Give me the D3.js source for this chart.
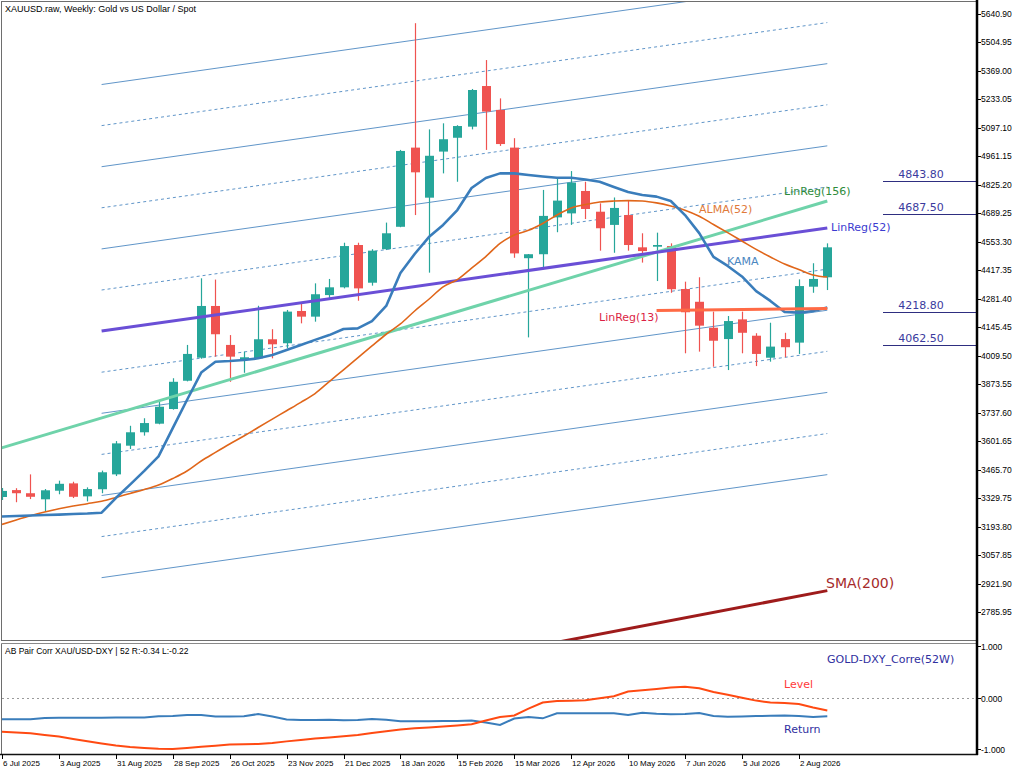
<!DOCTYPE html>
<html><head><meta charset="utf-8">
<script src="https://cdn.jsdelivr.net/npm/d3@7/dist/d3.min.js"></script>
<style>body{margin:0;background:#fff}svg{display:block}</style>
</head><body><svg id="c" width="1024" height="773"></svg>
<script>
// ---------- DATA ----------
const title = "XAUUSD.raw, Weekly:  Gold vs US Dollar / Spot";
const subTitle = "AB Pair Corr XAU/USD-DXY | 52 R:-0.34 L:-0.22";
const openP  = [3335,3368,3353,3324,3365,3400,3338,3372,3443,3580,3644,3685,3755,3890,4000,4247,4061,3989,3997,4088,4069,4223,4196,4299,4336,4538,4358,4518,4625,5003,4764,4984,5050,5103,5297,5183,5003,4475,4494,4670,4689,4796,4697,4634,4681,4527,4530,4533,4328,4267,4143,4089,4183,4105,4000,4089,4072,4339,4384];
const highP  = [3378,3377,3443,3373,3413,3408,3381,3461,3602,3675,3711,3790,3902,4061,4379,4373,4108,4029,4248,4136,4228,4265,4355,4376,4549,4549,4518,4645,4992,5597,5090,5119,5110,5283,5421,5238,5048,4495,4801,4859,4891,4840,4737,4765,4748,4594,4597,4546,4363,4384,4220,4199,4220,4117,4167,4119,4374,4451,4546];
const lowP   = [3321,3310,3325,3265,3348,3330,3314,3353,3435,3564,3628,3682,3752,3887,3995,4005,3885,3928,3996,3997,4045,4164,4172,4276,4331,4272,4344,4514,4623,4681,4406,4880,4840,5090,4992,5011,4477,4097,4422,4599,4634,4662,4511,4501,4511,4454,4366,4310,4021,4029,3957,3941,4021,3960,3981,4002,4018,4310,4323];
const closeP = [3364,3353,3336,3367,3398,3336,3373,3453,3591,3644,3688,3766,3885,4018,4247,4112,4005,4002,4088,4064,4220,4196,4303,4336,4533,4331,4511,4594,4987,4885,4964,5043,5106,5278,5175,5020,4498,4494,4677,4750,4836,4710,4618,4715,4538,4509,4538,4327,4217,4153,4081,4175,4119,4018,4053,4050,4342,4376,4527];
const kamaV = [3242,3244,3247,3249,3251,3254,3256,3260,3330,3394,3460,3529,3664,3798,3929,3981,3984,3989,3997,4013,4037,4061,4085,4108,4137,4140,4175,4247,4404,4495,4576,4634,4705,4810,4858,4880,4880,4872,4865,4859,4859,4851,4840,4815,4791,4777,4769,4748,4681,4595,4481,4438,4388,4318,4271,4218,4215,4223,4240];
const almaV = [3204,3225,3245,3263,3279,3292,3303,3315,3333,3352,3371,3392,3423,3459,3507,3548,3588,3626,3667,3707,3747,3787,3829,3886,3942,3999,4056,4112,4161,4223,4279,4338,4373,4428,4483,4546,4586,4608,4641,4681,4715,4731,4743,4748,4750,4748,4739,4724,4704,4675,4636,4597,4557,4517,4481,4447,4421,4395,4385];
const linReg52  = {from: 7,  to: 58, v0: 4127, v1: 4619};
const linReg156 = {from: -1, to: 58, v0: 3550, v1: 4748};
const linReg13  = {from: 46, to: 58, v0: 4225, v1: 4235};
const sma200    = {from: 0,  to: 58, v0: 2135, v1: 2888};
const channelStep = 196.2;
const channelK = [-6,-5,-4,-3,-2,-1,1,2,3,4,5,6];
const hLevels = [4843.80, 4687.50, 4218.80, 4062.50];
const priceTicks = [5640.90,5504.95,5369.00,5233.05,5097.10,4961.15,4825.20,4689.25,4553.30,4417.35,4281.40,4145.45,4009.50,3873.55,3737.60,3601.65,3465.70,3329.75,3193.80,3057.85,2921.90,2785.95];
const corrTicks = [1, 0, -1];
const dateLabels = ["6 Jul 2025","3 Aug 2025","31 Aug 2025","28 Sep 2025","26 Oct 2025","23 Nov 2025","21 Dec 2025","18 Jan 2026","15 Feb 2026","15 Mar 2026","12 Apr 2026","10 May 2026","7 Jun 2026","5 Jul 2026","2 Aug 2026"];
const dateIdx = [0,4,8,12,16,20,24,28,32,36,40,44,48,52,56];
const corrLevel = [-0.66,-0.676,-0.691,-0.724,-0.755,-0.801,-0.846,-0.888,-0.927,-0.956,-0.975,-0.988,-0.994,-0.975,-0.95,-0.932,-0.909,-0.902,-0.898,-0.878,-0.847,-0.82,-0.79,-0.77,-0.749,-0.724,-0.685,-0.653,-0.62,-0.595,-0.577,-0.558,-0.539,-0.515,-0.444,-0.376,-0.347,-0.216,-0.098,-0.068,-0.062,-0.054,-0.015,0.023,0.116,0.139,0.164,0.193,0.207,0.178,0.106,0.054,-0.004,-0.06,-0.097,-0.106,-0.125,-0.193,-0.25];
const corrReturn = [-0.421,-0.421,-0.421,-0.396,-0.39,-0.39,-0.39,-0.39,-0.386,-0.386,-0.384,-0.363,-0.357,-0.338,-0.338,-0.365,-0.369,-0.363,-0.319,-0.367,-0.425,-0.434,-0.434,-0.431,-0.438,-0.434,-0.415,-0.429,-0.459,-0.459,-0.458,-0.456,-0.454,-0.444,-0.483,-0.531,-0.405,-0.376,-0.402,-0.305,-0.305,-0.305,-0.305,-0.305,-0.338,-0.295,-0.315,-0.322,-0.319,-0.299,-0.357,-0.373,-0.367,-0.357,-0.353,-0.347,-0.357,-0.376,-0.36];

// ---------- LAYOUT ----------
const svg = d3.select("#c");
const axisX = 977;
const x = d3.scaleLinear().domain([0, 58]).range([2, 827.3]);
const y = d3.scaleLinear().domain([2652.3, 5707.7]).range([640, 0]);
const yc = d3.scaleLinear().domain([-1, 1]).range([749.3, 645.7]);
const N = openP.length;

const defs = svg.append("defs");
defs.append("clipPath").attr("id","mainClip").append("rect").attr("x",2).attr("y",2).attr("width",axisX-2).attr("height",638);
defs.append("clipPath").attr("id","subClip").append("rect").attr("x",2).attr("y",644).attr("width",axisX-2).attr("height",109);

const main = svg.append("g").attr("clip-path","url(#mainClip)");
const sub = svg.append("g").attr("clip-path","url(#subClip)");

// channel lines
const chLine = (k) => [[linReg52.from, linReg52.v0 + k*channelStep],[linReg52.to, linReg52.v1 + k*channelStep]];
const line = d3.line().x(d => x(d[0])).y(d => y(d[1]));
channelK.forEach(k => {
  main.append("path").attr("d", line(chLine(k)))
    .attr("fill","none").attr("stroke","#4f8ac2").attr("stroke-width",1)
    .attr("stroke-dasharray", Math.abs(k)%2===1 ? "3,3" : null)
    .attr("opacity",0.9);
});

// SMA 200
main.append("path").attr("d", line([[sma200.from,sma200.v0],[sma200.to,sma200.v1]]))
  .attr("stroke","#9e1b1b").attr("stroke-width",3).attr("fill","none");

// candles
const idx = d3.range(N);
const bw = 9;
const cg = main.append("g");
idx.forEach(i => {
  const up = closeP[i] >= openP[i];
  const col = up ? "#26a69a" : "#ef5350";
  const cx = Math.round(x(i)) + 0.5;
  cg.append("line").attr("x1",cx).attr("x2",cx).attr("y1",y(highP[i])).attr("y2",y(lowP[i]))
    .attr("stroke",col).attr("stroke-width",1.2);
  const top = y(Math.max(openP[i],closeP[i])), bot = y(Math.min(openP[i],closeP[i]));
  cg.append("rect").attr("x",cx-bw/2).attr("y",top).attr("width",bw).attr("height",Math.max(1.5,bot-top))
    .attr("fill",col);
});

// LinReg 156
main.append("path").attr("d", line([[linReg156.from,linReg156.v0],[linReg156.to,linReg156.v1]]))
  .attr("stroke","#6fd3aa").attr("stroke-width",3).attr("fill","none");
// LinReg 52
main.append("path").attr("d", line([[linReg52.from,linReg52.v0],[linReg52.to,linReg52.v1]]))
  .attr("stroke","#6a4fd6").attr("stroke-width",3).attr("fill","none");
// ALMA
main.append("path").attr("d", d3.line().x((d,i)=>x(i)).y(d=>y(d)).curve(d3.curveMonotoneX)(almaV))
  .attr("stroke","#e0661a").attr("stroke-width",1.6).attr("fill","none");
// KAMA
main.append("path").attr("d", d3.line().x((d,i)=>x(i)).y(d=>y(d))(kamaV))
  .attr("stroke","#3a7dbb").attr("stroke-width",2.6).attr("fill","none").attr("stroke-linejoin","round");
// LinReg 13
main.append("path").attr("d", line([[linReg13.from,linReg13.v0],[linReg13.to,linReg13.v1]]))
  .attr("stroke","#ff6a45").attr("stroke-width",3).attr("fill","none");

// horizontal levels
hLevels.forEach(v => {
  const yy = Math.round(y(v)) + 0.5;
  svg.append("line").attr("x1",883).attr("x2",axisX).attr("y1",yy).attr("y2",yy)
    .attr("stroke","#2e2e80").attr("stroke-width",1.2);
  svg.append("text").attr("x",921).attr("y",yy-4).attr("text-anchor","middle")
    .attr("font-family","DejaVu Sans").attr("font-size",11).attr("fill","#3b3b9e").text(v.toFixed(2));
});

// indicator labels
const lab = (t, xx, yy, col, fs) => svg.append("text").attr("x",xx).attr("y",yy).attr("dy","0.35em")
  .attr("font-family","DejaVu Sans").attr("font-size",fs||11).attr("fill",col).text(t);
lab("LinReg(156)", 784, 191, "#2e8b3a");
lab("ALMA(52)", 699, 209.5, "#e07a3a");
lab("LinReg(52)", 831, 227, "#3b3bd0");
lab("KAMA", 727, 261, "#4a86bf");
lab("LinReg(13)", 599, 317, "#dc1f45");
lab("SMA(200)", 826, 583, "#a52a2a", 14);

// ---------- SUB PANEL ----------
sub.append("line").attr("x1",2).attr("x2",axisX).attr("y1",Math.round(yc(0))+0.5).attr("y2",Math.round(yc(0))+0.5)
  .attr("stroke","#9a9a9a").attr("stroke-width",1).attr("stroke-dasharray","2,3");
sub.append("path").attr("d", d3.line().x((d,i)=>x(i)).y(d=>yc(d))(corrReturn))
  .attr("stroke","#3a7dbb").attr("stroke-width",2).attr("fill","none");
sub.append("path").attr("d", d3.line().x((d,i)=>x(i)).y(d=>yc(d))(corrLevel))
  .attr("stroke","#ff4a12").attr("stroke-width",2).attr("fill","none");
lab("GOLD-DXY_Corre(52W)", 827, 659.5, "#2f2fa0");
lab("Level", 784, 684.5, "#ff3a3a");
lab("Return", 784, 729, "#2f2fa0");

// ---------- FRAMES & AXES ----------
const frame = svg.append("g").attr("fill","none");
frame.append("rect").attr("x",1.5).attr("y",1.5).attr("width",axisX-1.5).attr("height",639).attr("stroke","#6e6e6e");
frame.append("line").attr("x1",1.5).attr("x2",axisX).attr("y1",643.5).attr("y2",643.5).attr("stroke","#8a8a8a");
frame.append("line").attr("x1",1.5).attr("x2",1.5).attr("y1",643.5).attr("y2",754).attr("stroke","#6e6e6e");
frame.append("line").attr("x1",0).attr("x2",axisX+1).attr("y1",754.5).attr("y2",754.5).attr("stroke","#111").attr("stroke-width",1.3);
frame.append("line").attr("x1",axisX).attr("x2",axisX).attr("y1",0).attr("y2",755).attr("stroke","#000").attr("stroke-width",2.5);

const tf = "Liberation Sans";
const yAxis = svg.append("g");
priceTicks.forEach(v => {
  const yy = Math.round(y(v)) + 0.5;
  yAxis.append("line").attr("x1",axisX).attr("x2",axisX+4).attr("y1",yy).attr("y2",yy).attr("stroke","#000");
  yAxis.append("text").attr("x",axisX+4).attr("y",yy).attr("dy","0.35em").attr("font-family",tf).attr("font-size",8.5).attr("fill","#000").text(v.toFixed(2));
});
corrTicks.forEach(v => {
  const yy = Math.round(yc(v)) + 0.5;
  yAxis.append("line").attr("x1",axisX).attr("x2",axisX+4).attr("y1",yy).attr("y2",yy).attr("stroke","#000");
  yAxis.append("text").attr("x",axisX+4).attr("y",yy+1).attr("dy","0.35em").attr("font-family",tf).attr("font-size",8.5).attr("fill","#000").text(v.toFixed(3));
});
const xAxis = svg.append("g");
dateIdx.forEach((di, j) => {
  const xx = Math.round(x(di)) + 0.5;
  xAxis.append("line").attr("x1",xx).attr("x2",xx).attr("y1",754).attr("y2",759).attr("stroke","#000");
  xAxis.append("text").attr("x",xx+0.5).attr("y",766).attr("font-family",tf).attr("font-size",8).attr("fill","#000").text(dateLabels[j]);
});

svg.append("text").attr("x",5).attr("y",12).attr("font-family",tf).attr("font-size",9).attr("fill","#000").text(title);
svg.append("text").attr("x",5).attr("y",653.5).attr("font-family",tf).attr("font-size",8.5).attr("fill","#000").text(subTitle);
</script></body></html>
